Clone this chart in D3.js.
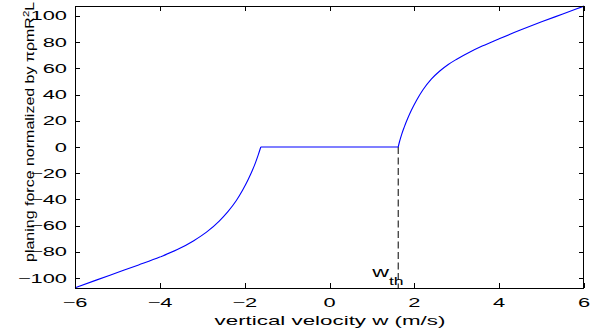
<!DOCTYPE html>
<html>
<head>
<meta charset="utf-8">
<script src="https://cdn.jsdelivr.net/npm/d3@7"></script>
<style>
  html, body { margin: 0; padding: 0; background: #fff; }
  svg { display: block; }
  text { font-family: "Liberation Sans", Arial, Helvetica, sans-serif; fill: #000; }
</style>
</head>
<body>
<svg id="chart" width="591" height="332"></svg>
<script>
// ---- data ----
const wTh = 1.62;
const negW = [-6.0, -5.5, -5.0, -4.5, -4.0, -3.6, -3.2, -2.9, -2.6, -2.4, -2.2, -2.05, -1.92, -1.82, -1.74, -1.68, -1.62];
const negF = [-107.5, -101.6, -95.8, -90, -84, -78.5, -71.5, -65, -56.5, -49.5, -41, -33, -25, -18, -11.5, -6, 0];
const flatW = [-1.62, 1.62];
const flatF = [0, 0];
const posW = [1.62, 1.65, 1.7, 1.76, 1.84, 1.93, 2.05, 2.2, 2.4, 2.6, 2.8, 3.0, 3.3, 3.6, 4.0, 4.5, 5.0, 5.5, 6.0];
const posF = [0, 4, 9.5, 15, 21.5, 28, 35.5, 43.5, 51.8, 58, 63, 67, 72.3, 77, 82.6, 89.2, 95.5, 101.5, 107.5];
const xTicks = [-6, -4, -2, 0, 2, 4, 6];
const yTicks = [-100, -80, -60, -40, -20, 0, 20, 40, 60, 80, 100];
const xLabel = "vertical velocity w (m/s)";
const yLabelMain = "planing force normalized by \u03c0\u03c1mR";
const yLabelSup = "2";
const yLabelEnd = "L";

// ---- layout ----
const L = 75, R = 584, T = 6, B = 288;
const svg = d3.select("#chart");
const x = d3.scaleLinear().domain([-6, 6]).range([L, R]);
const y = d3.scaleLinear().domain([-107.6, 107.6]).range([B, T]);
const minus = v => (v < 0 ? "\u2212" + Math.abs(v) : String(v));
const SX = 1.75;

// ticks (inside, all four sides)
const tl = 5;
const tg = svg.append("g").attr("stroke", "#000").attr("stroke-width", 1).attr("shape-rendering", "crispEdges");
xTicks.forEach(v => {
  const px = Math.round(x(v)) + 0.5;
  tg.append("line").attr("x1", px).attr("x2", px).attr("y1", B).attr("y2", B - tl);
  tg.append("line").attr("x1", px).attr("x2", px).attr("y1", T).attr("y2", T + tl);
});
yTicks.forEach(v => {
  const py = Math.round(y(v)) + 0.5;
  tg.append("line").attr("x1", L).attr("x2", L + tl).attr("y1", py).attr("y2", py);
  tg.append("line").attr("x1", R).attr("x2", R - tl).attr("y1", py).attr("y2", py);
});

// tick labels
yTicks.forEach(v => {
  svg.append("text")
    .attr("transform", `translate(67,${y(v) + 4.5}) scale(${SX},1)`)
    .attr("text-anchor", "end").attr("font-size", 12.5)
    .text(minus(v));
});
xTicks.forEach(v => {
  svg.append("text")
    .attr("transform", `translate(${x(v)},307) scale(${SX},1)`)
    .attr("text-anchor", "middle").attr("font-size", 12.5)
    .text(minus(v));
});

// axis labels
svg.append("text")
  .attr("transform", `translate(330,325) scale(1.72,1)`)
  .attr("text-anchor", "middle").attr("font-size", 13)
  .text(xLabel);

const yl = svg.append("text")
  .attr("transform", `translate(34,262) rotate(-90) scale(1.28,1)`)
  .attr("text-anchor", "start").attr("font-size", 12.5);
yl.append("tspan").text(yLabelMain);
yl.append("tspan").attr("font-size", 9).attr("dy", -5).text(yLabelSup);
yl.append("tspan").attr("dy", 5).text(yLabelEnd);

// dashed threshold line
svg.append("line")
  .attr("x1", x(wTh)).attr("x2", x(wTh))
  .attr("y1", y(0)).attr("y2", B)
  .attr("stroke", "#000").attr("stroke-width", 1)
  .attr("stroke-dasharray", "7,3.5");

// w_th annotation
const wt = svg.append("text")
  .attr("transform", `translate(${x(wTh) - 26},277) scale(1.6,1)`)
  .attr("font-size", 14.5);
wt.append("tspan").text("w");
wt.append("tspan").attr("font-size", 11).attr("dy", 8).text("th");

// curve
const line = d3.line().x(d => x(d[0])).y(d => y(d[1])).curve(d3.curveMonotoneX);
const series = [
  negW.map((w, i) => [w, negF[i]]),
  flatW.map((w, i) => [w, flatF[i]]),
  posW.map((w, i) => [w, posF[i]])
];
svg.append("g").selectAll("path").data(series).join("path")
  .attr("d", line)
  .attr("fill", "none").attr("stroke", "#0000ff").attr("stroke-width", 1.1);

// axes box
svg.append("rect")
  .attr("x", L + 0.5).attr("y", T + 0.5).attr("width", R - L - 1).attr("height", B - T)
  .attr("fill", "none").attr("stroke", "#000").attr("stroke-width", 1)
  .attr("shape-rendering", "crispEdges");
</script>
</body>
</html>
